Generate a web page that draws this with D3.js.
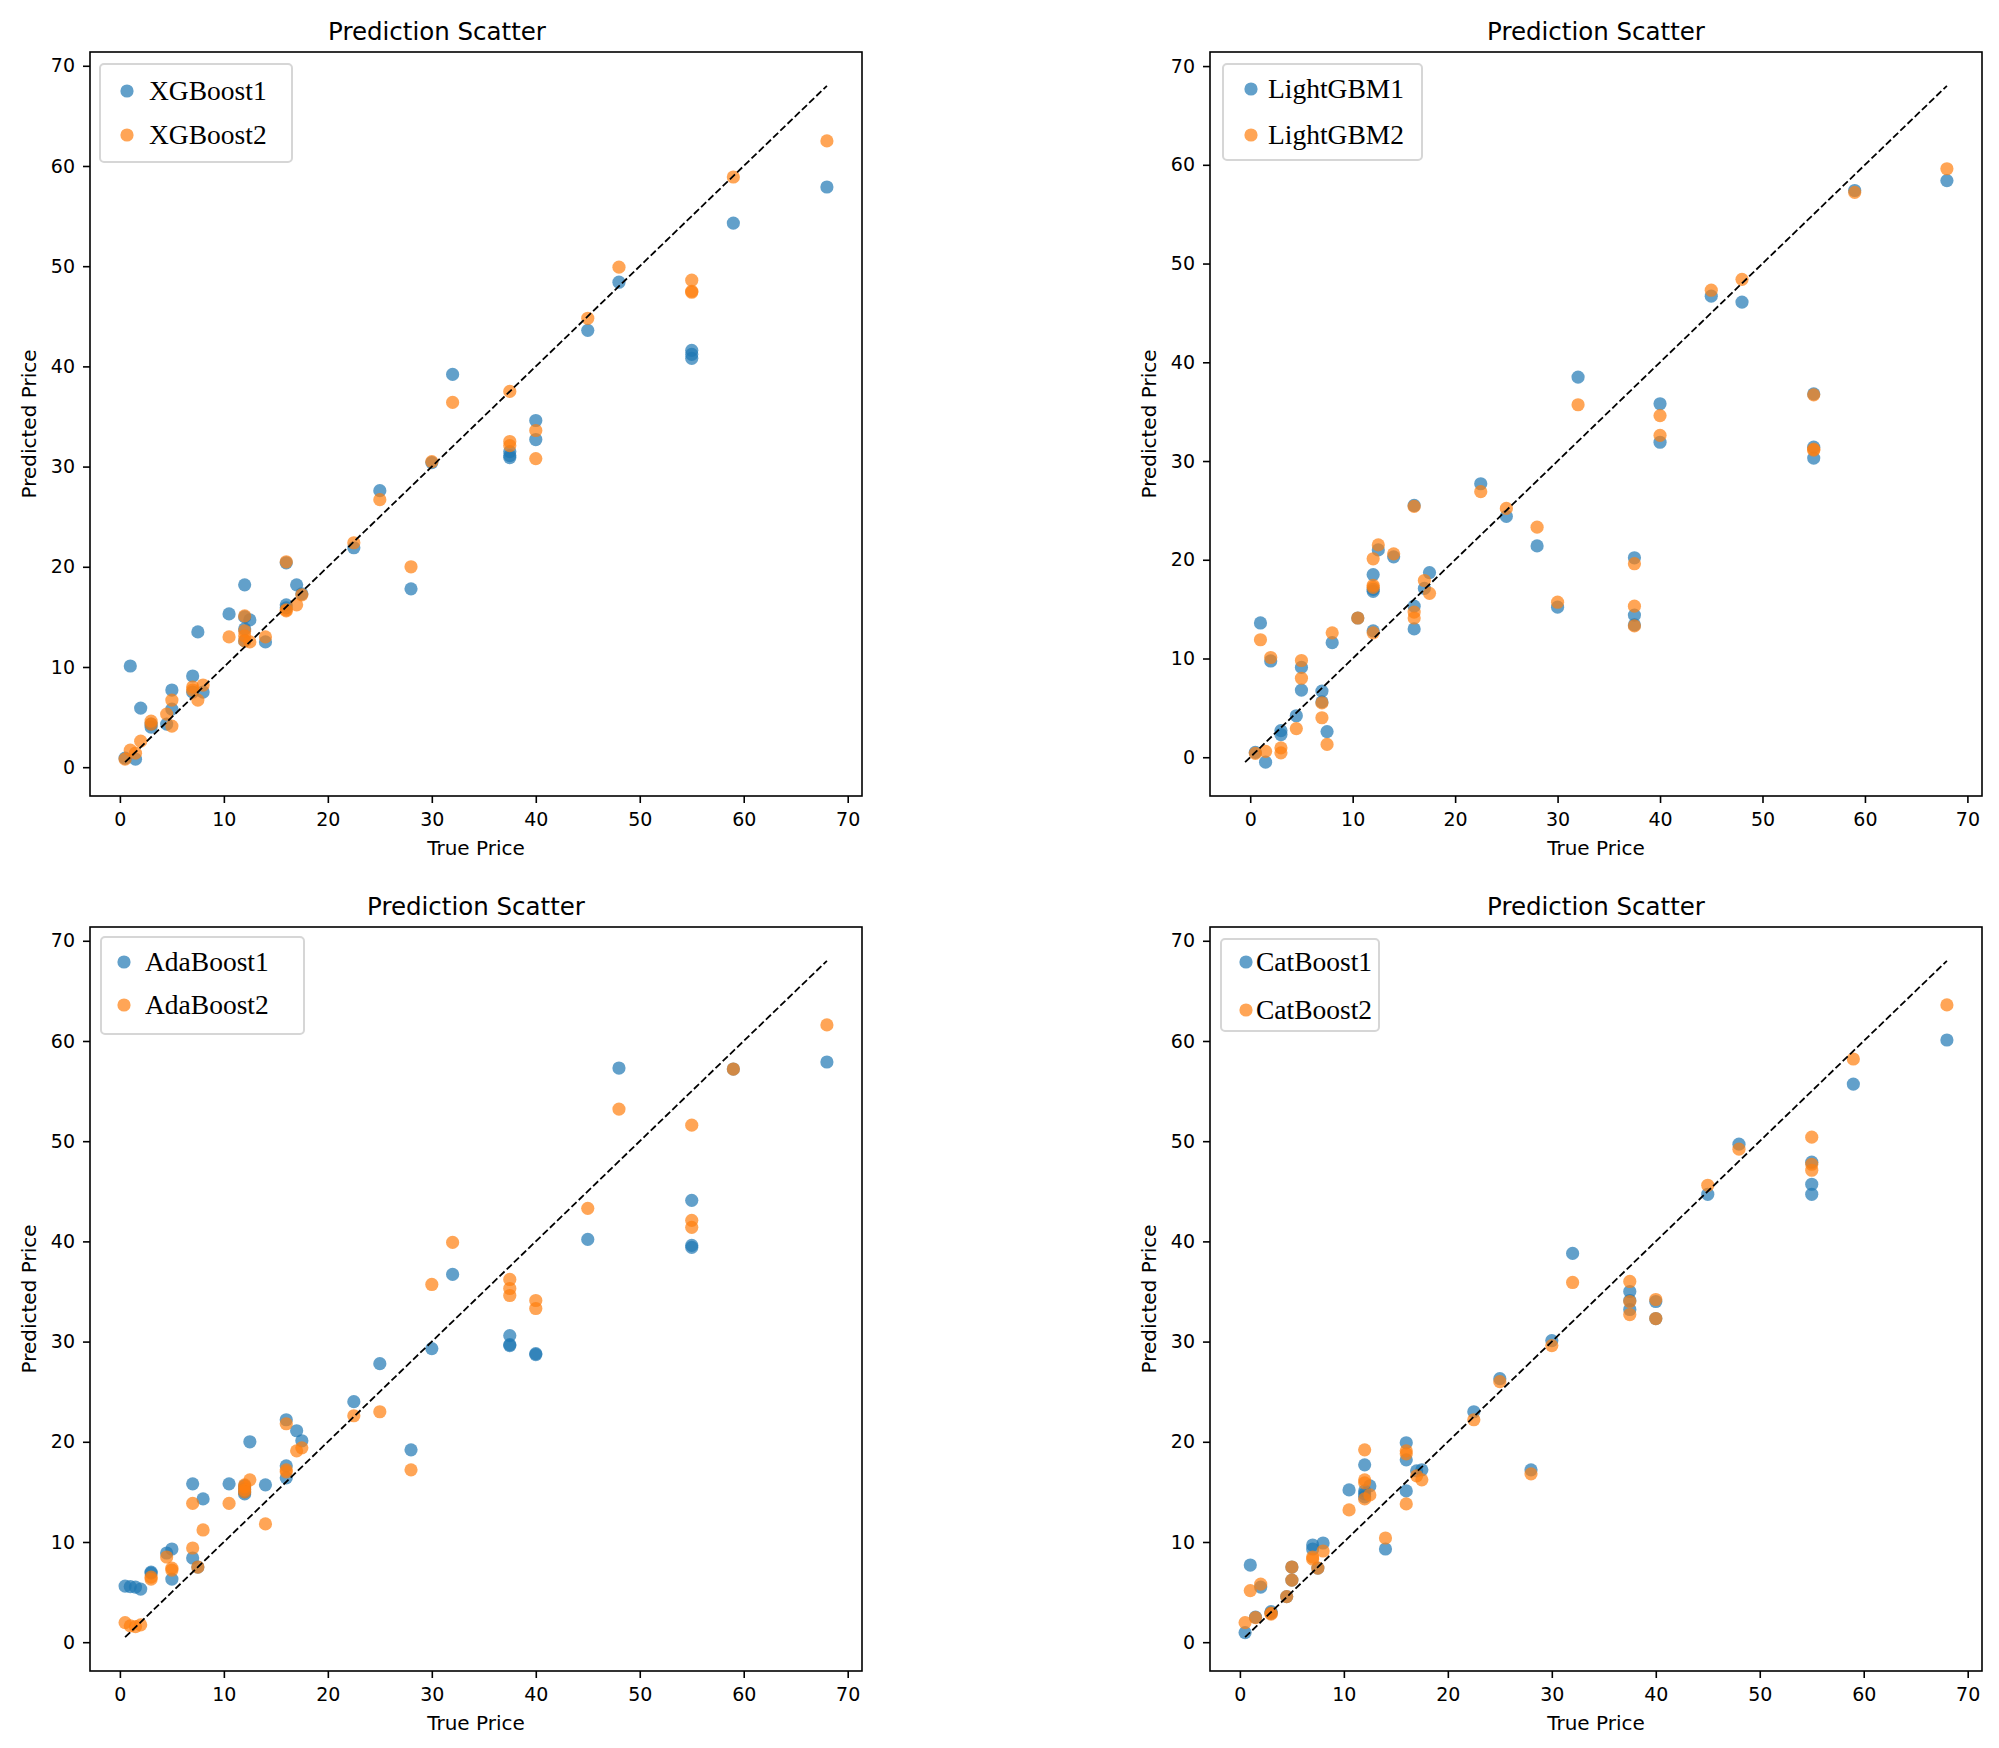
<!DOCTYPE html>
<html>
<head>
<meta charset="utf-8">
<script src="https://cdn.jsdelivr.net/npm/d3@7"></script>
<style>
  body { margin: 0; background: #fff; }
</style>
</head>
<body>
<div id="chart"></div>
<script>
// true prices of the test set, shared by all four models
const truePrice = [0.5, 1, 1.5, 2, 3, 3, 4.5, 5, 5, 7, 7, 7.5, 8, 10.5, 12, 12, 12, 12, 12.5, 14,
  16, 16, 16, 17, 17.5, 22.5, 25, 28, 30, 32, 37.5, 37.5, 37.5, 40, 40, 45, 48, 55, 55, 55, 59, 68];

// predictions, same order as truePrice
const xgb1 = [0.9, 10.1, 0.8, 5.9, 4.0, 4.3, 4.3, 7.7, 5.8, 9.1, 7.5, 13.5, 7.5, 15.3, 18.2, 15.0, 13.8, 12.6, 14.7, 12.5,
  20.4, 16.2, 15.9, 18.2, 17.3, 21.9, 27.6, 17.8, 30.4, 39.2, 31.5, 31.1, 30.9, 34.6, 32.7, 43.6, 48.4, 41.6, 41.2, 40.8, 54.3, 57.9];
const xgb2 = [0.8, 1.7, 1.4, 2.6, 4.6, 4.3, 5.3, 6.7, 4.1, 8.0, 7.7, 6.7, 8.2, 13.0, 15.1, 13.6, 13.1, 12.6, 12.5, 13.0,
  20.5, 15.7, 15.6, 16.2, 17.2, 22.4, 26.7, 20.0, 30.5, 36.4, 37.5, 32.5, 32.1, 33.6, 30.8, 44.8, 49.9, 48.6, 47.5, 47.4, 58.9, 62.5];

const lgb1 = [0.5, 13.6, -0.5, 9.75, 2.7, 2.3, 4.2, 9.1, 6.8, 6.7, 5.6, 2.6, 11.6, 14.1, 18.5, 17.0, 16.8, 12.8, 21.0, 20.3,
  25.5, 15.3, 13.0, 17.1, 18.7, 27.7, 24.4, 21.4, 15.2, 38.5, 20.2, 14.4, 13.4, 35.8, 31.9, 46.7, 46.1, 36.8, 31.4, 30.3, 57.4, 58.4];
const lgb2 = [0.4, 11.9, 0.6, 10.1, 0.95, 0.45, 2.9, 9.8, 8.0, 5.5, 4.0, 1.3, 12.6, 14.1, 20.1, 17.4, 17.2, 12.6, 21.5, 20.6,
  25.4, 14.7, 14.1, 17.9, 16.6, 26.9, 25.2, 23.3, 15.7, 35.7, 19.6, 15.3, 13.3, 34.6, 32.6, 47.3, 48.4, 36.7, 31.2, 31.1, 57.2, 59.6];

const ada1 = [5.6, 5.55, 5.5, 5.3, 7.0, 6.9, 8.9, 9.3, 6.3, 15.8, 8.4, 7.5, 14.3, 15.8, 14.8, 15.0, 15.3, 15.6, 20.0, 15.7,
  22.2, 17.6, 16.4, 21.1, 20.1, 24.0, 27.8, 19.2, 29.3, 36.7, 30.6, 29.7, 29.6, 28.8, 28.7, 40.2, 57.3, 44.1, 39.6, 39.4, 57.2, 57.9];
const ada2 = [1.96, 1.63, 1.56, 1.73, 6.3, 6.5, 8.5, 7.4, 7.2, 13.85, 9.4, 7.5, 11.2, 13.85, 15.7, 15.5, 15.2, 15.0, 16.2, 11.8,
  21.8, 17.2, 17.0, 19.1, 19.4, 22.6, 23.0, 17.2, 35.7, 39.9, 36.2, 35.3, 34.6, 34.1, 33.3, 43.3, 53.2, 51.6, 42.1, 41.4, 57.2, 61.6];

const cat1 = [0.96, 7.7, 2.5, 5.5, 3.05, 2.9, 4.55, 7.5, 6.2, 9.7, 9.3, 7.4, 9.9, 15.2, 17.7, 15.1, 14.8, 14.5, 15.6, 9.3,
  19.9, 18.2, 15.1, 17.1, 17.2, 23.0, 26.3, 17.2, 30.1, 38.8, 35.0, 34.1, 33.2, 34.0, 32.3, 44.7, 49.7, 47.9, 45.7, 44.7, 55.7, 60.1];
const cat2 = [1.96, 5.15, 2.46, 5.8, 2.8, 2.9, 4.55, 7.5, 6.2, 8.5, 8.3, 7.4, 9.1, 13.2, 19.2, 16.2, 15.9, 14.3, 14.7, 10.4,
  19.1, 18.8, 13.8, 16.6, 16.2, 22.2, 26.0, 16.8, 29.6, 35.9, 36.0, 34.0, 32.7, 34.2, 32.3, 45.6, 49.2, 50.4, 47.7, 47.1, 58.2, 63.6];

const tickLabels = [0, 10, 20, 30, 40, 50, 60, 70];
const seriesColors = ["#1f77b4", "#ff7f0e"];

// layout of the four subplots
const axW = 772, axH = 744;
const panels = [
  { names: ["XGBoost1", "XGBoost2"], preds: [xgb1, xgb2], left: 90, top: 52, titleDx: -39,
    legend: { dx: 10, dy: 12, w: 192, h: 98, mx: 27, tx: 49, r1: 27, gap: 44 } },
  { names: ["LightGBM1", "LightGBM2"], preds: [lgb1, lgb2], left: 1210, top: 52, titleDx: 0,
    legend: { dx: 13, dy: 12, w: 199, h: 96, mx: 28, tx: 45, r1: 25, gap: 46 } },
  { names: ["AdaBoost1", "AdaBoost2"], preds: [ada1, ada2], left: 90, top: 927, titleDx: 0,
    legend: { dx: 11, dy: 10, w: 203, h: 97, mx: 23, tx: 44, r1: 25, gap: 43 } },
  { names: ["CatBoost1", "CatBoost2"], preds: [cat1, cat2], left: 1210, top: 927, titleDx: 0,
    legend: { dx: 11, dy: 12, w: 158, h: 92, mx: 25, tx: 35, r1: 23, gap: 48 } }
];

const svg = d3.select("#chart")
  .append("svg")
  .attr("width", 1999)
  .attr("height", 1748)
  .style("font-family", "'DejaVu Sans', sans-serif");

svg.append("rect").attr("width", 1999).attr("height", 1748).attr("fill", "#fff");

panels.forEach(p => {
  const all = truePrice.concat(p.preds[0], p.preds[1]);
  const [lo, hi] = d3.extent(all);
  const pad = (hi - lo) * 0.05;

  const x = d3.scaleLinear().domain([lo - pad, hi + pad]).range([p.left, p.left + axW]);
  const y = d3.scaleLinear().domain([lo - pad, hi + pad]).range([p.top + axH, p.top]);

  const g = svg.append("g");

  // axes
  const xAxis = g.append("g")
    .attr("transform", `translate(0,${p.top + axH})`)
    .call(d3.axisBottom(x).tickValues(tickLabels).tickSize(7).tickPadding(10).tickSizeOuter(0));
  const yAxis = g.append("g")
    .attr("transform", `translate(${p.left},0)`)
    .call(d3.axisLeft(y).tickValues(tickLabels).tickSize(7).tickPadding(8).tickSizeOuter(0));

  [xAxis, yAxis].forEach(a => {
    a.select(".domain").remove();
    a.selectAll(".tick line").attr("stroke", "#000").attr("stroke-width", 1.6);
    a.selectAll(".tick text")
      .attr("fill", "#000")
      .style("font-size", "19px")
      .style("font-family", "'DejaVu Sans', sans-serif");
  });

  // scatter, model 1 then model 2 on top
  p.preds.forEach((pred, k) => {
    g.append("g")
      .selectAll("circle")
      .data(truePrice.map((t, i) => [t, pred[i]]))
      .join("circle")
      .attr("cx", d => x(d[0]))
      .attr("cy", d => y(d[1]))
      .attr("r", 6.6)
      .attr("fill", seriesColors[k])
      .attr("fill-opacity", 0.7);
  });

  // ideal line
  g.append("line")
    .attr("x1", x(lo)).attr("y1", y(lo))
    .attr("x2", x(hi)).attr("y2", y(hi))
    .attr("stroke", "#000")
    .attr("stroke-width", 1.8)
    .attr("stroke-dasharray", "7,3");

  // frame
  g.append("rect")
    .attr("x", p.left).attr("y", p.top)
    .attr("width", axW).attr("height", axH)
    .attr("fill", "none")
    .attr("stroke", "#000")
    .attr("stroke-width", 1.6);

  // titles and labels
  g.append("text")
    .attr("x", p.left + axW / 2 + p.titleDx)
    .attr("y", p.top - 12)
    .attr("text-anchor", "middle")
    .style("font-size", "24.5px")
    .text("Prediction Scatter");

  g.append("text")
    .attr("x", p.left + axW / 2)
    .attr("y", p.top + axH + 59)
    .attr("text-anchor", "middle")
    .style("font-size", "20px")
    .text("True Price");

  g.append("text")
    .attr("transform", `translate(${p.left - 54},${p.top + axH / 2}) rotate(-90)`)
    .attr("text-anchor", "middle")
    .style("font-size", "20px")
    .text("Predicted Price");

  // legend
  const L = p.legend;
  const lg = g.append("g").attr("transform", `translate(${p.left + L.dx},${p.top + L.dy})`);
  lg.append("rect")
    .attr("width", L.w).attr("height", L.h)
    .attr("rx", 4)
    .attr("fill", "#fff").attr("fill-opacity", 0.8)
    .attr("stroke", "#d6d6d6").attr("stroke-width", 2);

  p.names.forEach((name, k) => {
    const cy = L.r1 + k * L.gap;
    lg.append("circle")
      .attr("cx", L.mx).attr("cy", cy)
      .attr("r", 6.6)
      .attr("fill", seriesColors[k])
      .attr("fill-opacity", 0.7);
    lg.append("text")
      .attr("x", L.tx).attr("y", cy + 8.5)
      .style("font-family", "'Liberation Serif', 'Times New Roman', serif")
      .style("font-size", "27.5px")
      .attr("fill", "#000")
      .text(name);
  });
});
</script>
</body>
</html>
